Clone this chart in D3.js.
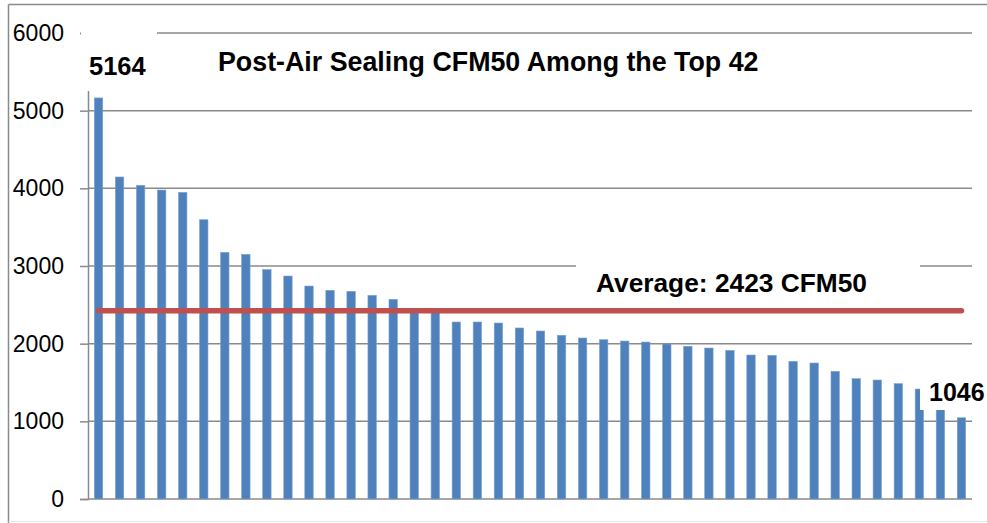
<!DOCTYPE html>
<html>
<head>
<meta charset="utf-8">
<script src="https://cdn.jsdelivr.net/npm/d3@7"></script>
<style>
  body { margin: 0; background: #fff; }
  svg { display: block; font-family: "Liberation Sans", Arial, sans-serif; }
</style>
</head>
<body>
<svg id="chart" width="987" height="523"></svg>
<script>
// data (CFM50 after air sealing, sorted)
var houses = d3.range(1, 43);
var cfm50 = [5164, 4146, 4039, 3978, 3948, 3596, 3176, 3150, 2953, 2871,
             2742, 2687, 2674, 2622, 2571, 2430, 2410, 2279, 2279, 2266,
             2202, 2163, 2108, 2073, 2051, 2034, 2021, 1996, 1966, 1944,
             1914, 1854, 1850, 1773, 1751, 1644, 1549, 1532, 1485, 1416,
             1150, 1046];
var average = 2423;
var yTicks = [0, 1000, 2000, 3000, 4000, 5000, 6000];
var title = "Post-Air Sealing CFM50 Among the Top 42";

var margin = {top: 33, right: 15, bottom: 24, left: 88},
    width = 972 - margin.left,
    height = 499 - margin.top;

var svg = d3.select("#chart");

// outer frame
svg.append("line").attr("x1", 8.5).attr("x2", 987).attr("y1", 4.5).attr("y2", 4.5)
   .attr("stroke", "#8a8a8a").attr("stroke-width", 1.5);
svg.append("line").attr("x1", 8.5).attr("x2", 8.5).attr("y1", 4.5).attr("y2", 523)
   .attr("stroke", "#8a8a8a").attr("stroke-width", 1.5);
svg.append("line").attr("x1", 8.5).attr("x2", 987).attr("y1", 521.5).attr("y2", 521.5)
   .attr("stroke", "#e6e6e6").attr("stroke-width", 1);

var g = svg.append("g").attr("transform", "translate(" + margin.left + "," + margin.top + ")");

var x = d3.scaleBand().domain(houses).range([0, width]).paddingInner(0.6).paddingOuter(0.3);
var y = d3.scaleLinear().domain([0, 6000]).range([height, 0]);

//======== grid lines + y axis
var yAxis = d3.axisLeft(y).tickValues(yTicks).tickSize(8).tickPadding(16).tickFormat(d3.format("d"));
var ya = g.append("g").attr("class", "y-axis").call(yAxis)
  .attr("font-size", 23).attr("font-family", "Liberation Sans, Arial, sans-serif");
ya.select(".domain").attr("stroke", "#8a8a8a").attr("stroke-width", 1.5);
ya.selectAll(".tick line").attr("stroke", "#8a8a8a").attr("stroke-width", 1.5);
ya.selectAll(".tick text").attr("fill", "#000");

g.append("g").attr("class", "grid")
  .selectAll("line").data(yTicks).enter().append("line")
  .attr("x1", 0).attr("x2", width)
  .attr("y1", function(d) { return y(d); }).attr("y2", function(d) { return y(d); })
  .attr("stroke", "#8a8a8a").attr("stroke-width", 1.5);

//======== bars
g.append("g").selectAll("rect").data(cfm50).enter().append("rect")
  .attr("x", function(d, i) { return x(houses[i]); })
  .attr("width", x.bandwidth())
  .attr("y", function(d) { return y(d); })
  .attr("height", function(d) { return height - y(d); })
  .attr("fill", "#4f81bd")
  .attr("stroke", "#7fa3d0").attr("stroke-width", 0.6);

//======== label boxes (white backgrounds, hide grid bits like the original)
g.append("rect").attr("x", -7).attr("y", -5).attr("width", 76).attr("height", 63).attr("fill", "#fff");
g.append("rect").attr("x", 488).attr("y", 222).attr("width", 344).attr("height", 40).attr("fill", "#fff");
g.append("rect").attr("x", 832).attr("y", 340).attr("width", 70).attr("height", 37).attr("fill", "#fff");

//======== average line
var first = x(houses[0]) + x.bandwidth() / 2,
    last = x(houses[houses.length - 1]) + x.bandwidth() / 2;
g.append("line")
  .attr("x1", first).attr("x2", last)
  .attr("y1", y(average)).attr("y2", y(average))
  .attr("stroke", "#c0504d").attr("stroke-width", 5.5).attr("stroke-linecap", "round");

//======== texts
svg.append("text").attr("x", 218).attr("y", 70.5)
  .attr("font-size", 26.8).attr("font-weight", "bold").attr("fill", "#000")
  .text(title);

svg.append("text").attr("x", 89).attr("y", 75)
  .attr("font-size", 25.5).attr("font-weight", "bold").attr("fill", "#000")
  .text(cfm50[0]);

svg.append("text").attr("x", 596).attr("y", 291.5)
  .attr("font-size", 26.3).attr("font-weight", "bold").attr("fill", "#000")
  .text("Average: " + average + " CFM50");

svg.append("text").attr("x", 929).attr("y", 400.5)
  .attr("font-size", 25).attr("font-weight", "bold").attr("fill", "#000")
  .text(cfm50[cfm50.length - 1]);
</script>
</body>
</html>
